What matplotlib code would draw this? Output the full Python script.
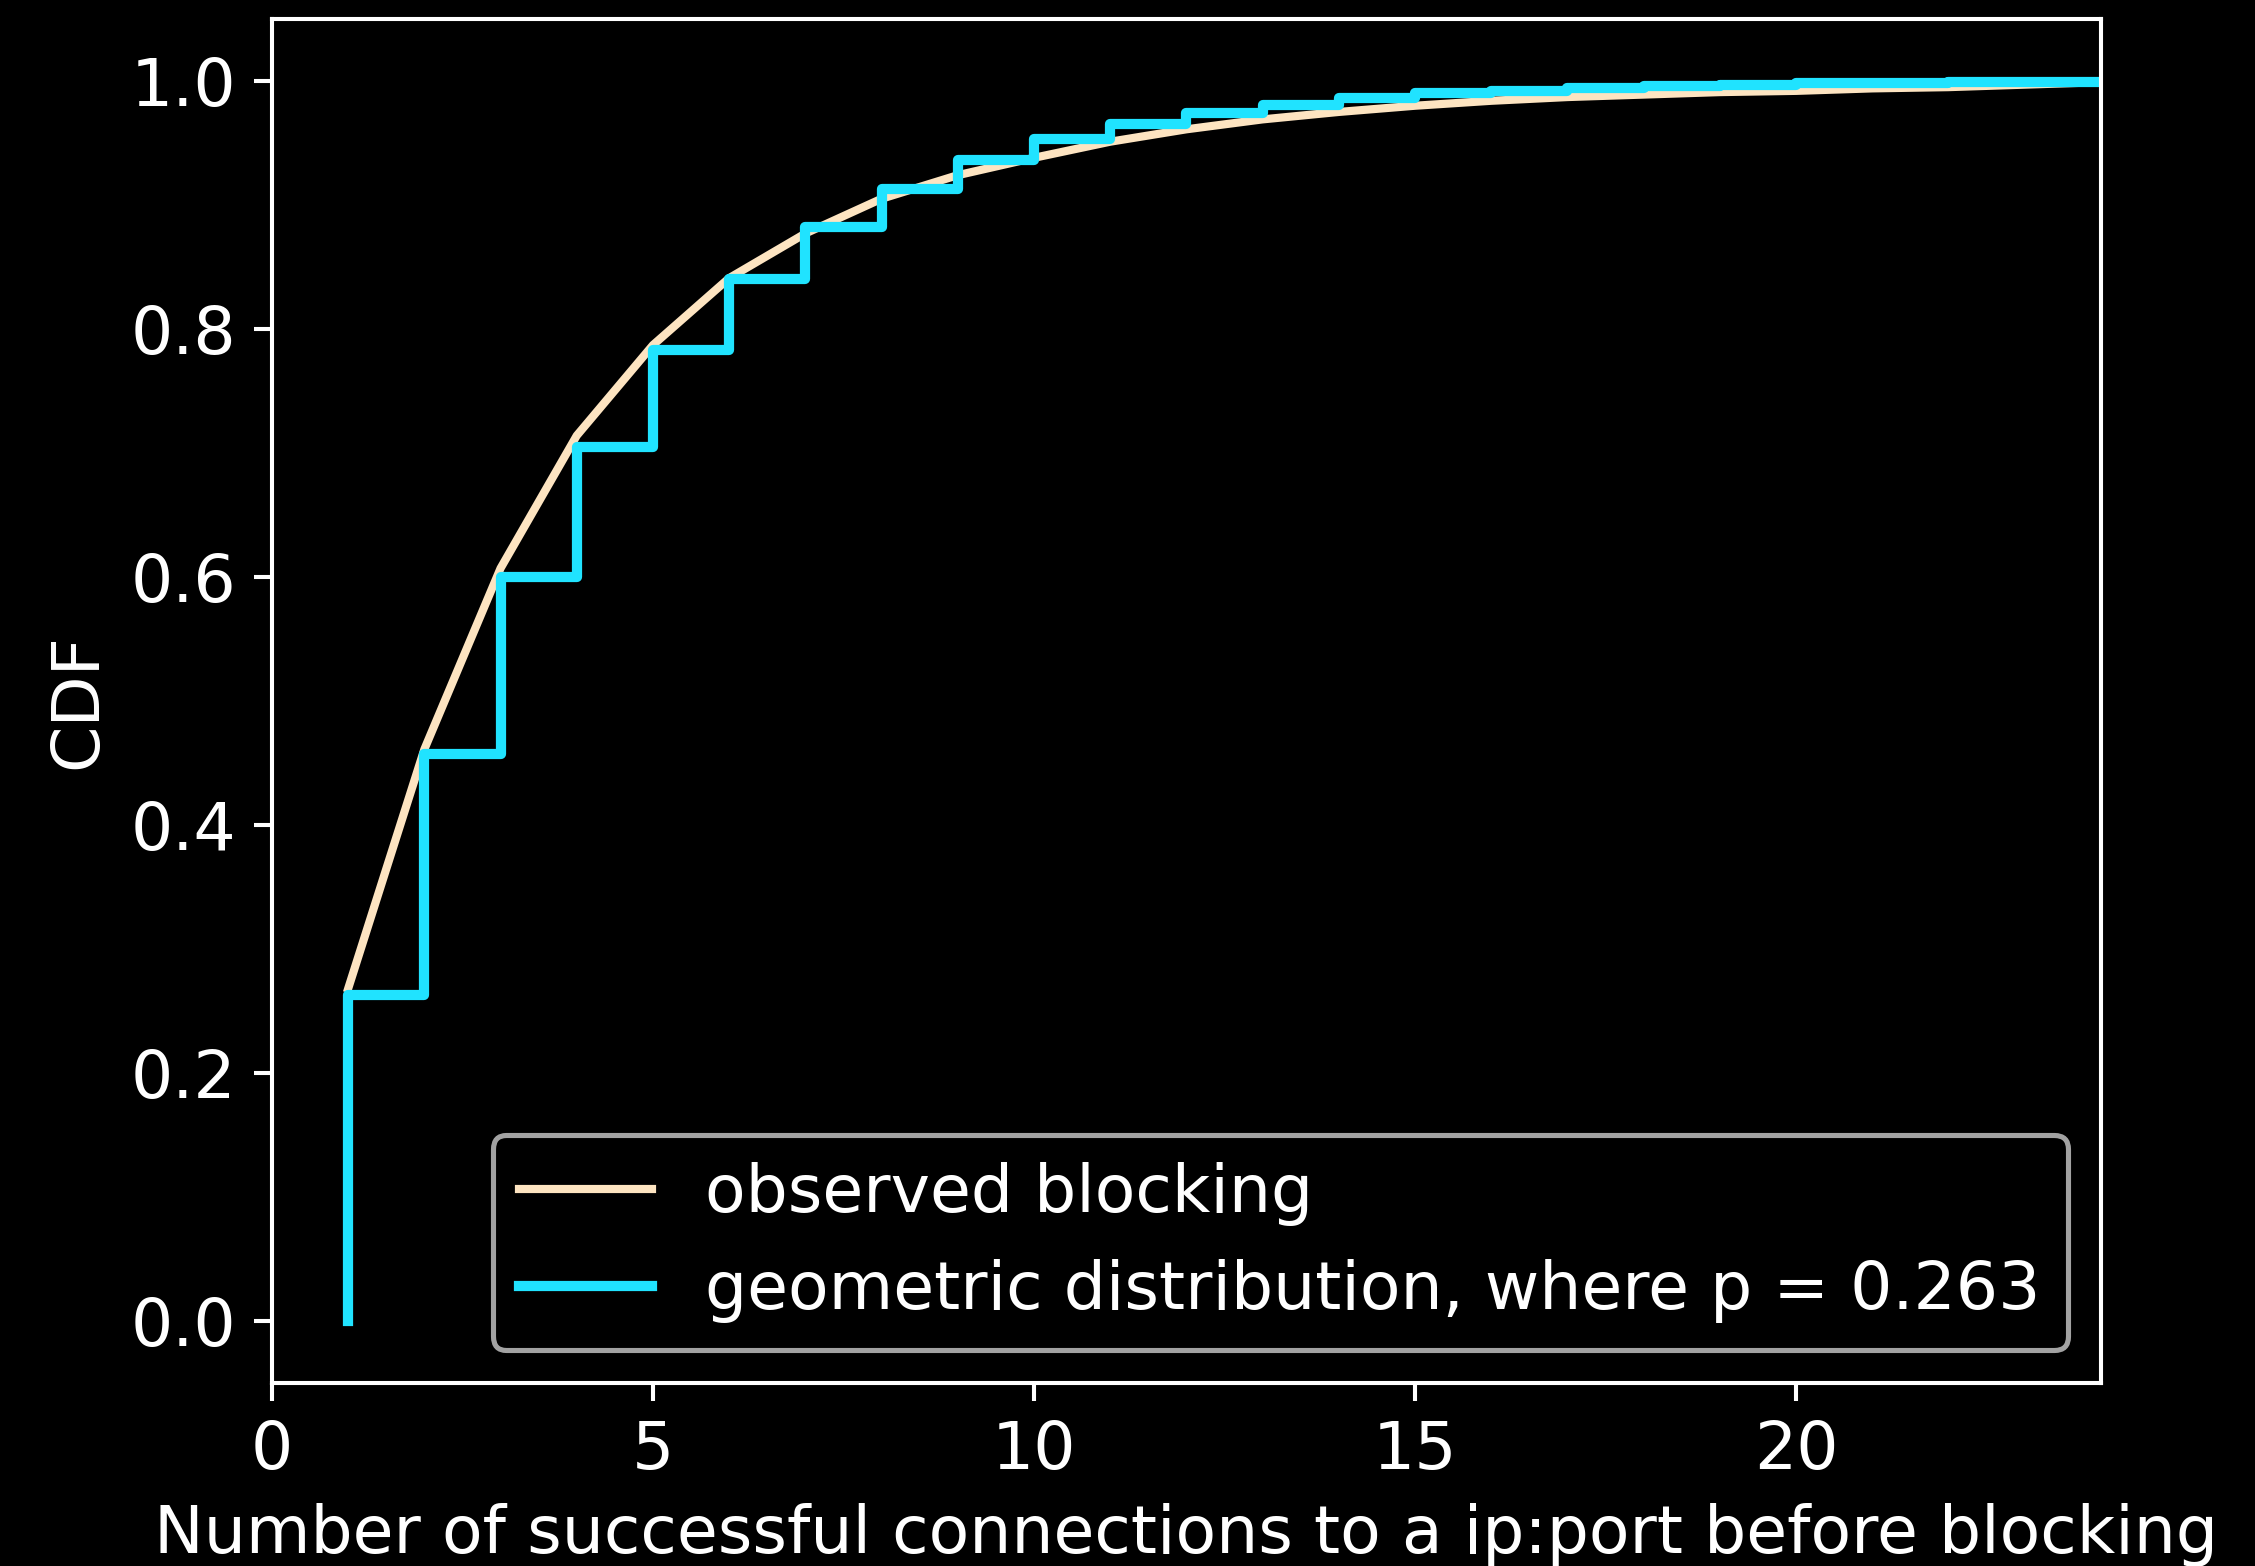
import matplotlib
matplotlib.use('Agg')
import matplotlib.pyplot as plt

plt.style.use('dark_background')
plt.rcParams['font.size'] = 13

# observed blocking CDF
obs_x = list(range(1, 25))
obs_y = [0.268, 0.461, 0.607, 0.714, 0.787, 0.841, 0.877, 0.905, 0.924, 0.938,
         0.951, 0.961, 0.969, 0.975, 0.980, 0.984, 0.987, 0.989, 0.991, 0.992,
         0.994, 0.995, 0.997, 0.999]

# geometric CDF steps (p = 0.263)
geo_x = [1] + list(range(1, 25))
geo_y = [0.0, 0.263, 0.457, 0.600, 0.705, 0.783, 0.840, 0.882, 0.913, 0.936, 0.953,
         0.965, 0.974, 0.981, 0.986, 0.990, 0.992, 0.994, 0.996, 0.997, 0.998,
         0.998, 0.999, 0.999, 0.999]

fig = plt.figure(figsize=(2255/368, 1566/368), dpi=368)
ax = fig.add_axes([0.1206, 0.1169, 0.811, 0.871])
ax.plot(obs_x, obs_y, color='#fde4c1', lw=1.6, label='observed blocking')
ax.step(geo_x, geo_y, where='post', color='#20e3ff', lw=2.0,
        label='geometric distribution, where p = 0.263')
ax.set_xlim(0, 24)
ax.set_ylim(-0.05, 1.05)
ax.set_xlabel('Number of successful connections to a ip:port before blocking')
ax.set_ylabel('CDF')
ax.legend(loc='lower right')
fig.savefig('out.png', dpi=368)
